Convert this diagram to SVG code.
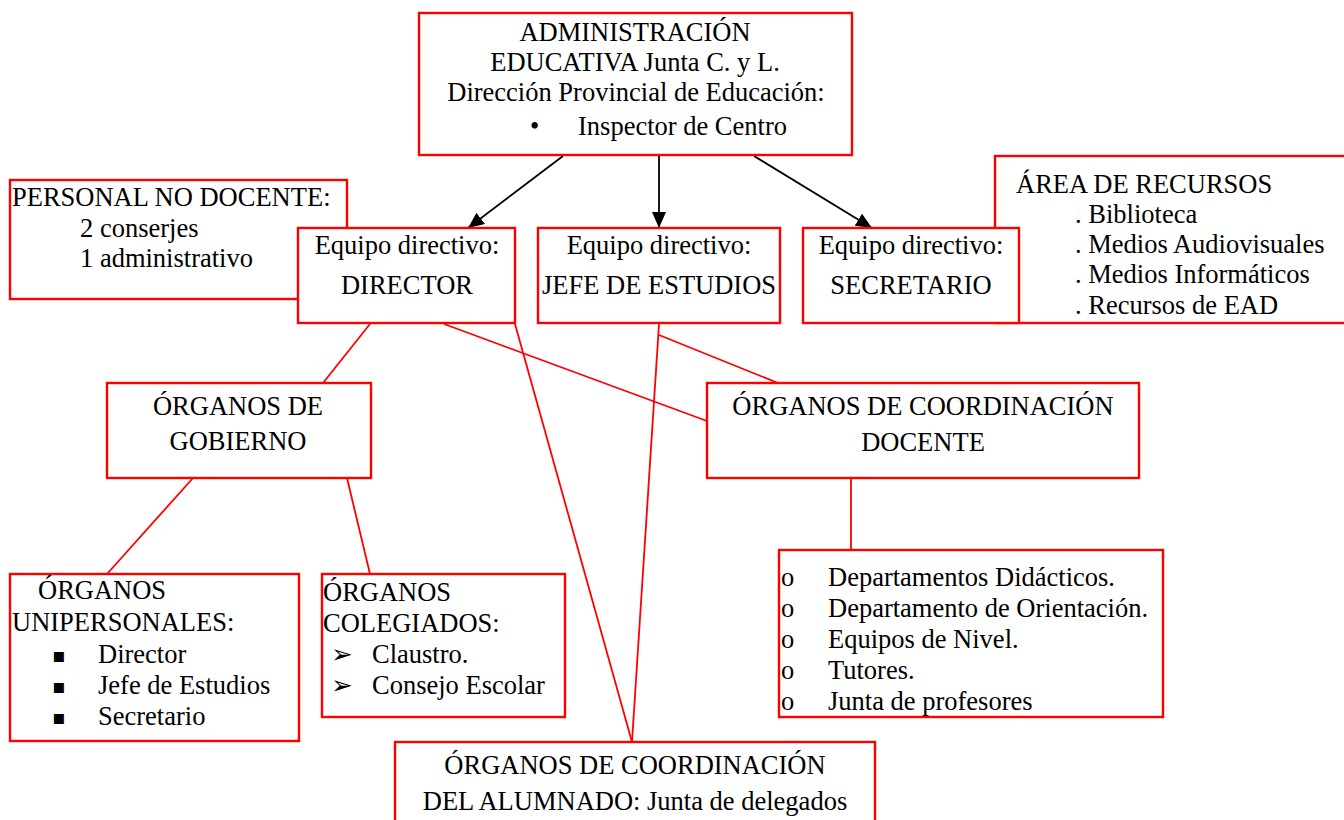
<svg xmlns="http://www.w3.org/2000/svg" width="1344" height="820" viewBox="0 0 1344 820">
<style>
.box{fill:#fff;stroke:#ff0000;stroke-width:2.4}
.t{font-family:"Liberation Serif","Times New Roman",serif;font-size:26.5px;fill:#000}
.c{text-anchor:middle}
.red{stroke:#ff0000;stroke-width:1.8;fill:none}
.blk{stroke:#000;stroke-width:1.8;fill:none}
.sq{font-family:"DejaVu Sans",sans-serif;font-size:20px;fill:#000}
.ar{font-family:"DejaVu Sans",sans-serif;font-size:26px;fill:#000}
</style>
<defs>
<marker id="ah" markerWidth="16" markerHeight="14" refX="16" refY="7" orient="auto" markerUnits="userSpaceOnUse">
<path d="M0,0 L16,7 L0,14 Z" fill="#000"/>
</marker>
</defs>
<rect width="1344" height="820" fill="#fff"/>

<g id="connectors">
<line class="blk" x1="563" y1="156" x2="468" y2="228" marker-end="url(#ah)"/>
<line class="blk" x1="659" y1="156" x2="659" y2="228" marker-end="url(#ah)"/>
<line class="blk" x1="754" y1="156" x2="872" y2="228" marker-end="url(#ah)"/>
<line class="red" x1="370" y1="324" x2="323" y2="383"/>
<line class="red" x1="444" y1="324" x2="707" y2="421"/>
<line class="red" x1="515" y1="324" x2="632" y2="742"/>
<line class="red" x1="659" y1="324" x2="632" y2="742"/>
<line class="red" x1="659" y1="335" x2="778" y2="383"/>
<line class="red" x1="193" y1="478" x2="107" y2="574"/>
<line class="red" x1="347" y1="478" x2="370" y2="574"/>
<line class="red" x1="851" y1="478" x2="851" y2="550"/>
</g>

<g id="admin">
<rect class="box" x="419" y="13" width="433" height="142"/>
<text class="t c" x="635" y="41">ADMINISTRACIÓN</text>
<text class="t c" x="635" y="71">EDUCATIVA Junta C. y L.</text>
<text class="t c" x="636" y="101">Dirección Provincial de Educación:</text>
<text class="t" x="530" y="135">•</text>
<text class="t" x="578" y="135">Inspector de Centro</text>
</g>

<g id="personal">
<rect class="box" x="10" y="180" width="337" height="119"/>
<text class="t" x="12" y="206">PERSONAL NO DOCENTE:</text>
<text class="t" x="80" y="237">2 conserjes</text>
<text class="t" x="80" y="267">1 administrativo</text>
</g>

<g id="area">
<rect class="box" x="995" y="156" width="360" height="167"/>
<text class="t" x="1016" y="193">ÁREA DE RECURSOS</text>
<text class="t" x="1075" y="223">. Biblioteca</text>
<text class="t" x="1075" y="253">. Medios Audiovisuales</text>
<text class="t" x="1075" y="283">. Medios Informáticos</text>
<text class="t" x="1075" y="314">. Recursos de EAD</text>
</g>

<g id="director">
<rect class="box" x="298" y="228" width="217" height="95"/>
<text class="t c" x="407" y="254">Equipo directivo:</text>
<text class="t c" x="407" y="294">DIRECTOR</text>
</g>

<g id="jefe">
<rect class="box" x="538" y="228" width="242" height="95"/>
<text class="t c" x="659" y="254">Equipo directivo:</text>
<text class="t c" x="659" y="294">JEFE DE ESTUDIOS</text>
</g>

<g id="secretario">
<rect class="box" x="803" y="228" width="216" height="95"/>
<text class="t c" x="911" y="254">Equipo directivo:</text>
<text class="t c" x="911" y="294">SECRETARIO</text>
</g>

<g id="gobierno">
<rect class="box" x="107" y="383" width="264" height="95"/>
<text class="t c" x="238" y="415">ÓRGANOS DE</text>
<text class="t c" x="238" y="450">GOBIERNO</text>
</g>

<g id="docente">
<rect class="box" x="707" y="383" width="432" height="95"/>
<text class="t c" x="923" y="415">ÓRGANOS DE COORDINACIÓN</text>
<text class="t c" x="923" y="451">DOCENTE</text>
</g>

<g id="unipersonales">
<rect class="box" x="10" y="574" width="289" height="167"/>
<text class="t" x="38" y="599">ÓRGANOS</text>
<text class="t" x="12" y="631">UNIPERSONALES:</text>
<text class="sq" x="52" y="662">▪</text>
<text class="t" x="98" y="663">Director</text>
<text class="sq" x="52" y="693">▪</text>
<text class="t" x="98" y="694">Jefe de Estudios</text>
<text class="sq" x="52" y="724">▪</text>
<text class="t" x="98" y="725">Secretario</text>
</g>

<g id="colegiados">
<rect class="box" x="322" y="574" width="243" height="143"/>
<text class="t" x="323" y="601">ÓRGANOS</text>
<text class="t" x="323" y="632">COLEGIADOS:</text>
<text class="ar" x="331" y="663">➢</text>
<text class="t" x="372" y="663">Claustro.</text>
<text class="ar" x="331" y="694">➢</text>
<text class="t" x="372" y="694">Consejo Escolar</text>
</g>

<g id="departamentos">
<rect class="box" x="779" y="550" width="384" height="167"/>
<text class="t" x="781" y="586">o</text>
<text class="t" x="828" y="586">Departamentos Didácticos.</text>
<text class="t" x="781" y="617">o</text>
<text class="t" x="828" y="617">Departamento de Orientación.</text>
<text class="t" x="781" y="648">o</text>
<text class="t" x="828" y="648">Equipos de Nivel.</text>
<text class="t" x="781" y="679">o</text>
<text class="t" x="828" y="679">Tutores.</text>
<text class="t" x="781" y="710">o</text>
<text class="t" x="828" y="710">Junta de profesores</text>
</g>

<g id="alumnado">
<rect class="box" x="395" y="742" width="480" height="100"/>
<text class="t c" x="635" y="774">ÓRGANOS DE COORDINACIÓN</text>
<text class="t c" x="635" y="810">DEL ALUMNADO: Junta de delegados</text>
</g>
</svg>
